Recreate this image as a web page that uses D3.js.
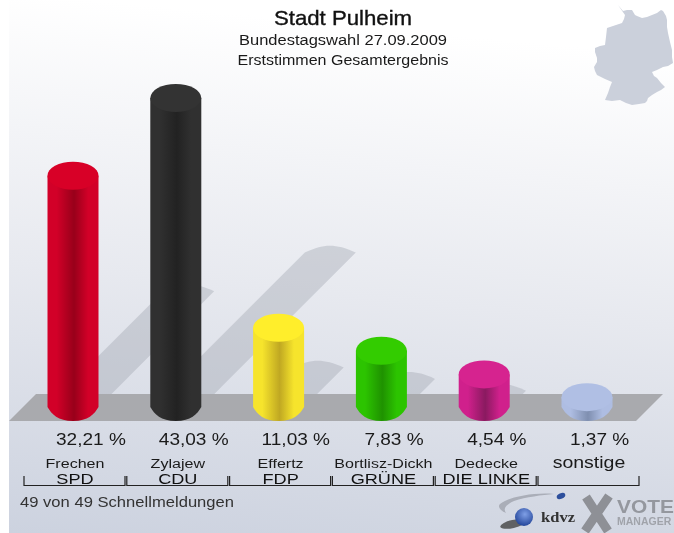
<!DOCTYPE html>
<html><head><meta charset="utf-8">
<script src="https://cdn.jsdelivr.net/npm/d3@7"></script>
<style>html,body{margin:0;padding:0;background:#fff}svg{display:block;filter:blur(0.45px)}text{font-family:"Liberation Sans",Arial,sans-serif}</style>
</head><body><div id="c"></div>
<script>
const parties=["SPD","CDU","FDP","GRÜNE","DIE LINKE",""];
const candidates=["Frechen","Zylajew","Effertz","Bortlisz-Dickh","Dedecke","sonstige"];
const values=[32.21,43.03,11.03,7.83,4.54,1.37];
const valueLabels=["32,21 %","43,03 %","11,03 %","7,83 %","4,54 %","1,37 %"];
const topColors=["#d80027","#333333","#ffee2b","#33cc00","#d6238f","#b0bfe4"];
const edgeColors=["#d20028","#303030","#f6e42c","#2cc400","#d0208c","#aebde2"];
const midColors=["#98001a","#222222","#c0a822","#1f9200","#8a1a60","#7f8fb0"];
const titleLines=["Stadt Pulheim","Bundestagswahl 27.09.2009","Erststimmen Gesamtergebnis"];
const footer="49 von 49 Schnellmeldungen";

const W=674,H=533,baseY=407,rx=25.5;
const svg=d3.select("#c").append("svg").attr("width",W).attr("height",H);
const defs=svg.append("defs");
const bg=defs.append("linearGradient").attr("id","bg").attr("x1",0.12).attr("y1",0).attr("x2",0).attr("y2",1);
bg.append("stop").attr("offset",0).attr("stop-color","#ffffff");
bg.append("stop").attr("offset",0.5).attr("stop-color","#e7e9ef");
bg.append("stop").attr("offset",1).attr("stop-color","#ccd2df");
svg.append("rect").attr("x",9).attr("y",0).attr("width",W-9).attr("height",H).attr("fill","url(#bg)");

const x=d3.scalePoint().domain(d3.range(values.length)).range([73,587]);
const y=d3.scaleLinear().domain([0,43.03]).range([baseY,98]);
const h=v=>baseY-y(v);

// Germany map silhouette
const map=[[618,5],[623,11],[627,10],[632,10],[635,15],[637,16],[642,18],[647,17],[652,15],[657,13],[661,10],[663,11],[666,16],[667,20],[667,27],[668,33],[670,42],[672,50],[672,57],[673,63],[668,66],[663,67],[657,70],[652,72],[654,76],[657,78],[661,83],[665,87],[661,90],[657,92],[652,95],[648,98],[647,101],[645,103],[639,104],[632,105],[626,103],[620,100],[612,101],[605,100],[608,93],[610,87],[612,82],[605,79],[597,75],[595,71],[594,67],[597,62],[597,58],[595,52],[595,48],[600,46],[605,45],[606,37],[607,28],[613,26],[622,23],[624,19],[625,15]];
svg.append("path").attr("d",d3.line().curve(d3.curveLinearClosed)(map)).attr("fill","#cbd0db");

// shadows
const shadow=svg.append("g").attr("fill","#9fa3ad").attr("fill-opacity",0.38);
values.forEach((v,i)=>{
  const d=h(v)/2,cx=x(i),l=cx-rx,r=cx+rx;
  shadow.append("path").attr("d",`M${l},${baseY}L${l+d},${baseY-d}C${l+d+18},${baseY-d-8} ${r+d-22},${baseY-d-10} ${r+d},${baseY-d}L${r},${baseY}Z`);
});

// floor
svg.append("path").attr("d",d3.line()([[9,421],[36,394],[663,394],[636,421]])).attr("fill","#a9aaae");

// cylinders
values.forEach((v,i)=>{
  const g=defs.append("linearGradient").attr("id","cyl"+i);
  g.append("stop").attr("offset",0).attr("stop-color",edgeColors[i]);
  g.append("stop").attr("offset",0.18).attr("stop-color",edgeColors[i]);
  g.append("stop").attr("offset",0.52).attr("stop-color",midColors[i]);
  g.append("stop").attr("offset",0.8).attr("stop-color",edgeColors[i]);
  g.append("stop").attr("offset",1).attr("stop-color",edgeColors[i]);
});
const bars=svg.append("g").selectAll("g").data(values).join("g");
bars.append("path").attr("fill",(d,i)=>`url(#cyl${i})`)
 .attr("d",(d,i)=>{const cx=x(i),t=y(d),l=cx-rx,r=cx+rx,b=baseY+14;
   return `M${l},${t}L${l},${baseY}C${l+4},${baseY+7} ${cx-15},${b} ${cx},${b}C${cx+15},${b} ${r-4},${baseY+7} ${r},${baseY}L${r},${t}Z`;});
bars.append("ellipse").attr("cx",(d,i)=>x(i)).attr("cy",d=>y(d)).attr("rx",rx).attr("ry",14).attr("fill",(d,i)=>topColors[i]);

// text: horizontally stretched glyphs, as the reference's wide sans
const T=(s,px,py,size,anchor="middle",fill="#1a1a1a",sx=1)=>svg.append("text").text(s).attr("transform",`translate(${px},${py}) scale(${sx},1)`).attr("font-size",size).attr("text-anchor",anchor).attr("fill",fill);
T(titleLines[0],343,25,20,"middle","#111",1.11).attr("stroke","#111").attr("stroke-width",0.35);
T(titleLines[1],343,45,15,"middle","#1a1a1a",1.1);
T(titleLines[2],343,65,15,"middle","#1a1a1a",1.07);
values.forEach((v,i)=>{
  T(valueLabels[i],x(i)-17,445,16,"start","#1a1a1a",1.19);
  if(i<5){
    T(candidates[i],x(i)+2,467.5,13.5,"middle","#1a1a1a",1.19);
    T(parties[i],x(i)+2,484,15.5,"middle","#111",1.17);
  } else T(candidates[i],x(i)+2,468,16,"middle","#1a1a1a",1.22);
  const a=x(i)-49,b=x(i)+52;
  svg.append("path").attr("d",`M${a},476V485.5H${b}V476`).attr("fill","none").attr("stroke","#222").attr("stroke-width",1.2);
});
T(footer,20,507,14.5,"start","#333",1.145);

// logos
const logo=svg.append("g");
logo.append("path").attr("d","M554,494C535,492 508,497 500,504C497,507 501,511 506,513C503,509 505,505 514,501C526,497 542,495 554,494Z").attr("fill","#aaaeb8");
logo.append("ellipse").attr("cx",561).attr("cy",496).attr("rx",4.5).attr("ry",2.8).attr("fill","#2d4f9c").attr("transform","rotate(-25 561 496)");
logo.append("ellipse").attr("cx",513).attr("cy",524).attr("rx",13).attr("ry",4).attr("fill","#444").attr("transform","rotate(-12 513 524)").attr("opacity",0.8);
const ball=defs.append("radialGradient").attr("id","ball").attr("cx",0.55).attr("cy",0.35).attr("r",0.7);
ball.append("stop").attr("offset",0).attr("stop-color","#7f9fe6");
ball.append("stop").attr("offset",1).attr("stop-color","#1d3f94");
logo.append("circle").attr("cx",524).attr("cy",517).attr("r",9).attr("fill","url(#ball)");
T("kdvz",558,522,15,"middle","#333",1.1).style("font-family","'Liberation Serif',serif").attr("font-weight","bold");
logo.append("path").attr("d","M586,497L608,531M609,496L585,531").attr("stroke","#8e9096").attr("stroke-width",9).attr("fill","none");
T("VOTE",617,513,18,"start","#94979e",1.16).attr("font-weight","bold");
T("MANAGER",617,525,10,"start","#a0a3aa",1.05).attr("font-weight","bold");
</script></body></html>
